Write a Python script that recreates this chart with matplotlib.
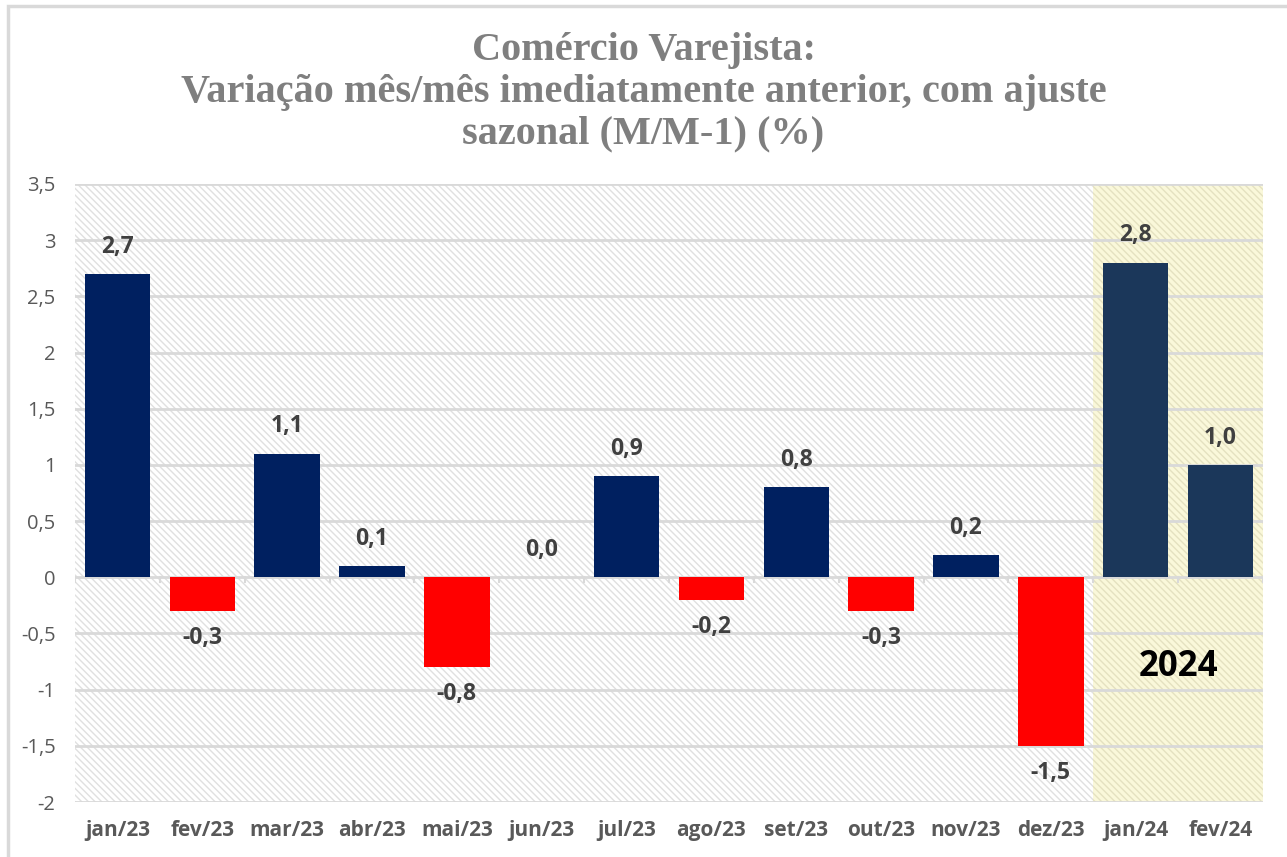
import numpy as np
import matplotlib.pyplot as plt
from matplotlib.patches import Rectangle

# --- data ---
months = ["jan/23", "fev/23", "mar/23", "abr/23", "mai/23", "jun/23", "jul/23",
          "ago/23", "set/23", "out/23", "nov/23", "dez/23", "jan/24", "fev/24"]
values = [2.7, -0.3, 1.1, 0.1, -0.8, 0.0, 0.9, -0.2, 0.8, -0.3, 0.2, -1.5, 2.8, 1.0]
yticks = [-2, -1.5, -1, -0.5, 0, 0.5, 1, 1.5, 2, 2.5, 3, 3.5]
highlight_label = "2024"
title = "Comércio Varejista:\nVariação mês/mês imediatamente anterior, com ajuste\nsazonal (M/M-1) (%)"

NAVY = "#002060"
NAVY_24 = "#1B375A"
RED = "#FF0000"
TXT = "#404040"
TICK = "#595959"
GRID = "#D9D9D9"

plt.rcParams["hatch.linewidth"] = 1.0

fig = plt.figure(figsize=(12.87, 8.57), dpi=100)
fig.patches.append(Rectangle((8 / 1287, -0.01), 1.02, 1.0 - 6 / 857 + 0.01, transform=fig.transFigure,
                             fill=False, edgecolor=GRID, linewidth=2.5))
ax = fig.add_axes([75 / 1287, 55 / 857, 1188 / 1287, 618 / 857])

x = np.arange(len(months))
ax.set_xlim(-0.5, len(months) - 0.5)
ax.set_ylim(-2, 3.5)

# hatched background
ax.add_patch(Rectangle((-0.5, -2), len(months), 5.5, facecolor="white", edgecolor="#E0E0E0",
                       hatch="\\\\\\\\\\", linewidth=0, zorder=0))
# 2024 highlight
ax.add_patch(Rectangle((11.5, -2), 2.0, 5.5, facecolor="#FAF8DA", edgecolor="#E4E1C0",
                       hatch="\\\\\\\\\\", linewidth=0, zorder=0.5))

for v in yticks:
    ax.axhline(v, color=GRID, linewidth=2, zorder=1)

colors = []
for i, v in enumerate(values):
    if i >= 12:
        colors.append(NAVY_24)
    elif v < 0:
        colors.append(RED)
    else:
        colors.append(NAVY)
ax.bar(x, values, width=0.77, color=colors, zorder=3)

# small ticks on the zero line
for i in range(len(months) + 1):
    ax.plot([i - 0.5, i - 0.5], [0, -0.04], color=GRID, linewidth=1.5, zorder=2)

for i, v in enumerate(values):
    lab = f"{v:.1f}".replace(".", ",")
    if v >= 0:
        ax.annotate(lab, (i, v), xytext=(0, 11), textcoords="offset points", ha="center",
                    va="bottom", fontsize=16.5, fontweight="bold", color=TXT, family="Open Sans")
    else:
        ax.annotate(lab, (i, v), xytext=(0, -11), textcoords="offset points", ha="center",
                    va="top", fontsize=16.5, fontweight="bold", color=TXT, family="Open Sans")

ax.text(12.5, -0.8, highlight_label, ha="center", va="center", fontsize=25,
        fontweight="bold", color="black", family="Open Sans")

ax.set_xticks(x)
ax.set_xticklabels(months, fontsize=15, fontweight="bold", color=TICK, family="Open Sans")
ax.set_yticks(yticks)
ax.set_yticklabels([f"{t:g}".replace(".", ",") for t in yticks], fontsize=14.5,
                   color=TICK, family="Open Sans")
ax.tick_params(axis="both", length=0)
ax.tick_params(axis="x", pad=13)
ax.tick_params(axis="y", pad=14)
for s in ax.spines.values():
    s.set_visible(False)

fig.text(0.5, 0.892, title, ha="center", va="center", fontsize=29, fontweight="bold",
         color="#7F7F7F", family="Liberation Serif", linespacing=1.17)

fig.savefig("out.png", dpi=100)
